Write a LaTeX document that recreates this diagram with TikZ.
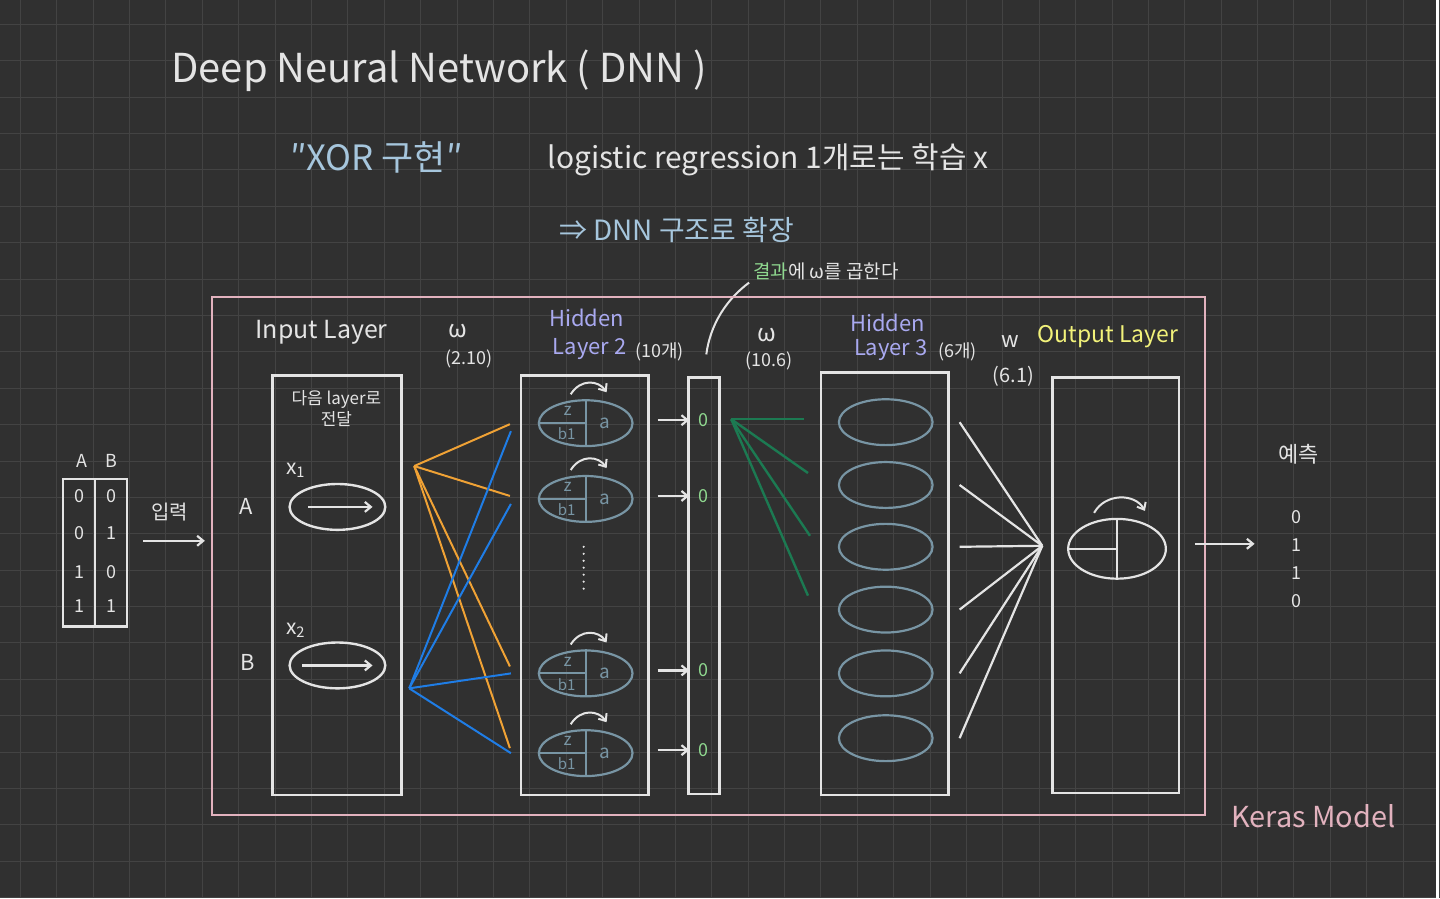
\documentclass[tikz,border=0pt]{standalone}
\usepackage{fontspec}
\setmainfont{Noto Sans CJK KR}
\usepackage{tikz}
\usetikzlibrary{positioning,arrows.meta,shapes.geometric}

\definecolor{board}{HTML}{303030}
\definecolor{gridc}{HTML}{434343}
\definecolor{chalk}{HTML}{E4E4E4}
\definecolor{skyblue}{HTML}{A6C6DD}
\definecolor{lavender}{HTML}{A9A9F0}
\definecolor{mintgreen}{HTML}{8FD88F}
\definecolor{pinkline}{HTML}{E2B2BE}
\definecolor{neuron}{HTML}{7895A4}
\definecolor{wtorange}{HTML}{F0A235}
\definecolor{wtblue}{HTML}{1F7DE6}
\definecolor{wtgreen}{HTML}{1C7A52}
\definecolor{hlyellow}{HTML}{F2F27A}

\newcommand{\penfont}[1]{\fontsize{#1}{#1}\selectfont}

\begin{document}
\begin{tikzpicture}[x=1pt, y=-1pt,
    hand/.style={text=chalk, inner sep=0pt},
    layerbox/.style={draw=chalk, line width=2.6pt},
    cell/.style={ellipse, draw=neuron, line width=2.2pt, minimum width=94pt,
        minimum height=46pt, inner sep=0pt},
    cellline/.style={draw=neuron, line width=2.2pt},
    arr/.style={-{Straight Barb[length=6pt,width=10pt]}, line width=2.2pt, chalk},
    wt/.style={line width=2pt},
]
% board and grid
\fill[board] (0,0) rectangle (1440,900);
\foreach \gx in {0,...,39}
    \draw[gridc, line width=1pt] ({20+36.5*\gx},0) -- ({20+36.5*\gx},900);
\foreach \gy in {0,...,24}
    \draw[gridc, line width=1pt] (0,{24+36.5*\gy}) -- (1440,{24+36.5*\gy});
\useasboundingbox (0,0) rectangle (1440,900);

% headings
\node[hand, font=\penfont{40}] (title) at (440,70) {Deep Neural Network ( DNN )};
\node[hand, text=skyblue, font=\penfont{35}] (xor) at (377,157) {″XOR 구현″};
\node[hand, font=\penfont{30}] (logit) at (770,160) {logistic regression 1개로는 학습 x};
\node[hand, text=skyblue, font=\penfont{28}] (extend) at (678,230) {⇒ DNN 구조로 확장};
\node[hand, font=\penfont{19}] (note) at (828,272) {\textcolor{mintgreen}{결과}에 ω를 곱한다};
\coordinate (noteend) at (708,355);
\draw[chalk, line width=2pt] ([xshift=-4pt,yshift=-11pt]note.west) .. controls (728,300) and (712,325) .. (noteend);

% Keras model frame
\node[draw=pinkline, line width=2pt, minimum width=996pt, minimum height=520pt, inner sep=0pt] (keras) at (710,557) {};
\node[hand, text=pinkline, font=\penfont{29}] (kerasname) at (1317,818) {Keras Model};

% input data
\node[draw=chalk, line width=2.4pt, minimum width=64pt, minimum height=148pt, inner sep=0pt] (tbl) at (95,554) {};
\draw[chalk, line width=2.4pt] (tbl.north) -- (tbl.south);
\node[hand, font=\penfont{18}] (colA) at (82,462) {A};
\node[hand, font=\penfont{18}] (colB) at (111,462) {B};
\foreach \r/\y/\va/\vb in {1/497/0/0, 2/534/0/1, 3/573/1/0, 4/607/1/1} {
    \node[hand, font=\penfont{18}] (ta\r) at (79,\y) {\va};
    \node[hand, font=\penfont{18}] (tb\r) at (111,\y) {\vb};
}
\node[hand, font=\penfont{20}] (feed) at (170,513) {입력};
\coordinate (feedA) at (143,542);
\coordinate (feedB) at (205,542);
\draw[arr] (feedA) -- (feedB);

% Input layer
\node[hand, font=\penfont{25}] (inname) at (322,333) {Input Layer};
\node[layerbox, minimum width=129pt, minimum height=421pt] (inlayer) at (337.5,586.5) {};
\node[hand, font=\penfont{17}, align=center] (inpass) at (337,409) {다음 layer로\\[2pt]전달};
\node[hand, font=\penfont{22}] (nameA) at (246,508) {A};
\node[hand, font=\penfont{22}] (nameB) at (248,664) {B};
\node[hand, font=\penfont{21}] (x1lbl) at (296,471) {x\textsubscript{1}};
\node[hand, font=\penfont{21}] (x2lbl) at (296,632) {x\textsubscript{2}};
\node[ellipse, draw=chalk, line width=2.4pt, minimum width=96pt, minimum height=46pt] (x1) at (338,508) {};
\node[ellipse, draw=chalk, line width=2.4pt, minimum width=96pt, minimum height=46pt] (x2) at (338,667) {};
\draw[arr] ([xshift=20pt]x1.west) -- ([xshift=-14pt]x1.east);
\draw[arr] ([xshift=14pt]x2.west) -- ([xshift=-14pt]x2.east);

\node[hand, font=\penfont{24}] (w1) at (459,332) {ω};
\node[hand, font=\penfont{18}] (w1dim) at (470,360) {(2.10)};

% weights input -> hidden 2
\coordinate (srcA) at (415,467);
\coordinate (srcB) at (410,690);
\foreach \e/\y in {1/425, 2/497, 3/668, 4/750} {
    \coordinate (oa\e) at (511,\y);
    \draw[wt, wtorange] (srcA) -- (oa\e);
}
\foreach \e/\y in {1/432, 2/505, 3/675, 4/755} {
    \coordinate (ob\e) at (512,\y);
    \draw[wt, wtblue] (srcB) -- (ob\e);
}

% Hidden layer 2
\node[hand, text=lavender, font=\penfont{22}] (h2name) at (588,318) {Hidden};
\node[hand, text=lavender, font=\penfont{22}, anchor=west] (h2name2) at (554,350) {Layer 2};
\node[hand, font=\penfont{18}] (h2count) at (661,352) {(10개)};
\node[layerbox, minimum width=128pt, minimum height=421pt] (hid2) at (586,586.5) {};
\foreach \i/\y in {1/424, 2/500, 3/675, 4/755} {
    \node[cell] (h\i) at (587,\y) {};
    \draw[cellline] (h\i.north) -- (h\i.south);
    \draw[cellline] (h\i.west) -- (h\i.center);
    \node[hand, text=neuron, font=\penfont{17}] (z\i) at (569,\y-12) {z};
    \node[hand, text=neuron, font=\penfont{15}] (b\i) at (568,\y+11) {b1};
    \node[hand, text=neuron, font=\penfont{19}] (a\i) at (606,\y) {a};
    \draw[arr, line width=2pt] (572,\y-29) .. controls (582,\y-45) and (600,\y-43) .. (608,\y-31);
    \node[hand, text=mintgreen, font=\penfont{18}] (o\i) at (705,\y-3) {0};
    \draw[arr] ([xshift=24pt,yshift=3pt]h\i.east) -- ([xshift=-9pt]o\i.west);
}
\draw[chalk, line width=2.4pt, line cap=round, dash pattern=on 0pt off 7pt] (585,548) -- (585,597);
\node[layerbox, minimum width=31pt, minimum height=418pt] (h2out) at (705.5,587) {};

\node[hand, font=\penfont{24}] (w2) at (769,336) {ω};
\node[hand, font=\penfont{18}] (w2dim) at (771,362) {(10.6)};

% weights hidden 2 -> hidden 3
\coordinate (gsrc) at (733,420);
\foreach \e/\x/\y in {1/806/420, 2/810/474, 3/812/537, 4/810/597} {
    \coordinate (ge\e) at (\x,\y);
    \draw[wt, wtgreen, line width=2.4pt] (gsrc) -- (ge\e);
}

% Hidden layer 3
\node[hand, text=lavender, font=\penfont{22}] (h3name) at (890,323) {Hidden};
\node[hand, text=lavender, font=\penfont{22}, anchor=west] (h3name2) at (856,351) {Layer 3};
\node[hand, font=\penfont{18}] (h3count) at (960,352) {(6개)};
\node[layerbox, minimum width=128pt, minimum height=424pt] (hid3) at (887,585) {};
\foreach \j/\y in {1/423, 2/486, 3/548, 4/611, 5/675, 6/740}
    \node[cell] (g\j) at (888,\y) {};

\node[hand, font=\penfont{22}] (w3) at (1013,342) {w};
\node[hand, font=\penfont{20}] (w3dim) at (1016,377) {(6.1)};

% weights hidden 3 -> output
\coordinate (osink) at (1045,547);
\foreach \j in {1,...,6}
    \draw[chalk, line width=2.2pt] ([xshift=26pt]g\j.east) -- (osink);

% Output layer
\node[hand, text=hlyellow, font=\penfont{23}] (outname) at (1111,337) {Output Layer};
\node[layerbox, minimum width=127pt, minimum height=417pt] (outlayer) at (1118.5,586.5) {};
\node[cell, draw=chalk, minimum width=98pt, minimum height=60pt] (outn) at (1120,550) {};
\draw[chalk, line width=2.2pt] (outn.north) -- (outn.south);
\draw[chalk, line width=2.2pt] (outn.west) -- (outn.center);
\draw[arr, line width=2pt] (1097,514) .. controls (1108,494) and (1138,494) .. (1148,512);

% prediction
\node[hand, font=\penfont{22}] (pred) at (1302,455) {예측};
\coordinate (predA) at (1198,545);
\coordinate (predB) at (1258,545);
\draw[arr] (predA) -- (predB);
\foreach \k/\y/\v in {1/518/0, 2/546/1, 3/574/1, 4/602/0}
    \node[hand, font=\penfont{18}] (p\k) at (1300,\y) {\v};
\end{tikzpicture}
\end{document}
